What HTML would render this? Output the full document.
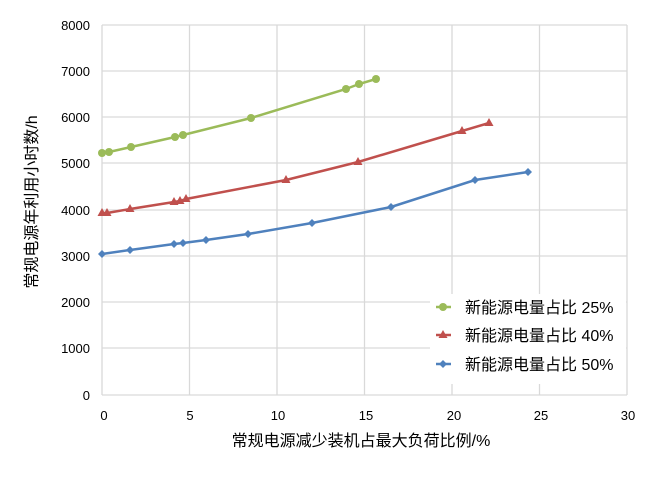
<!DOCTYPE html>
<html><head><meta charset="utf-8"><style>
body{margin:0;background:#fff;}
svg text{font-family:"Liberation Sans","Noto Sans CJK SC",sans-serif;fill:#000;}
</style></head><body>
<svg width="667" height="473" viewBox="0 0 667 473" xmlns="http://www.w3.org/2000/svg">
<rect width="667" height="473" fill="#fff"/>
<g stroke="#d9d9d9" stroke-width="1.3">
<line x1="102" y1="25" x2="627" y2="25"/>
<line x1="102" y1="71" x2="627" y2="71"/>
<line x1="102" y1="117" x2="627" y2="117"/>
<line x1="102" y1="163" x2="627" y2="163"/>
<line x1="102" y1="210" x2="627" y2="210"/>
<line x1="102" y1="256" x2="627" y2="256"/>
<line x1="102" y1="302" x2="627" y2="302"/>
<line x1="102" y1="348" x2="627" y2="348"/>
<line x1="102" y1="395" x2="627" y2="395"/>
<line x1="102" y1="25" x2="102" y2="395"/>
<line x1="189.5" y1="25" x2="189.5" y2="395"/>
<line x1="277" y1="25" x2="277" y2="395"/>
<line x1="364.5" y1="25" x2="364.5" y2="395"/>
<line x1="452" y1="25" x2="452" y2="395"/>
<line x1="539.5" y1="25" x2="539.5" y2="395"/>
<line x1="627" y1="25" x2="627" y2="395"/>
</g>
<g font-size="13" text-anchor="end">
<text x="90" y="30">8000</text><text x="90" y="76">7000</text><text x="90" y="122">6000</text><text x="90" y="168">5000</text><text x="90" y="215">4000</text><text x="90" y="261">3000</text><text x="90" y="307">2000</text><text x="90" y="353">1000</text><text x="90" y="400">0</text>
</g>
<g font-size="13" text-anchor="middle">
<text x="104" y="420">0</text><text x="190" y="420">5</text><text x="278" y="420">10</text><text x="366" y="420">15</text><text x="454" y="420">20</text><text x="541" y="420">25</text><text x="628" y="420">30</text>
</g>
<text x="361" y="446" font-size="16" text-anchor="middle">常规电源减少装机占最大负荷比例/%</text>
<text transform="translate(37,202) rotate(-90)" font-size="16" text-anchor="middle">常规电源年利用小时数/h</text>
<polyline fill="none" stroke="#9bbb59" stroke-width="2.5" points="102,153 109,152 131,147 175,137 183,135 251,118 346,89 359,84 376,79"/>
<g fill="#9bbb59"><circle cx="102" cy="153" r="4"/><circle cx="109" cy="152" r="4"/><circle cx="131" cy="147" r="4"/><circle cx="175" cy="137" r="4"/><circle cx="183" cy="135" r="4"/><circle cx="251" cy="118" r="4"/><circle cx="346" cy="89" r="4"/><circle cx="359" cy="84" r="4"/><circle cx="376" cy="79" r="4"/></g>
<polyline fill="none" stroke="#c0504d" stroke-width="2.5" points="102,213 107,213 130,209 174,202 180,201 186,199 286,180 358,162 462,131 489,123"/>
<g fill="#c0504d">
<path d="M102,208l4.5,8h-9z"/><path d="M107,208l4.5,8h-9z"/><path d="M130,204l4.5,8h-9z"/><path d="M174,197l4.5,8h-9z"/><path d="M180,196l4.5,8h-9z"/><path d="M186,194l4.5,8h-9z"/><path d="M286,175l4.5,8h-9z"/><path d="M358,157l4.5,8h-9z"/><path d="M462,126l4.5,8h-9z"/><path d="M489,118l4.5,8h-9z"/>
</g>
<polyline fill="none" stroke="#4f81bd" stroke-width="2.5" points="102,254 130,250 174,244 183,243 206,240 248,234 312,223 391,207 475,180 528,172"/>
<g fill="#4f81bd">
<path d="M102,250l4,4l-4,4l-4,-4z"/><path d="M130,246l4,4l-4,4l-4,-4z"/><path d="M174,240l4,4l-4,4l-4,-4z"/><path d="M183,239l4,4l-4,4l-4,-4z"/><path d="M206,236l4,4l-4,4l-4,-4z"/><path d="M248,230l4,4l-4,4l-4,-4z"/><path d="M312,219l4,4l-4,4l-4,-4z"/><path d="M391,203l4,4l-4,4l-4,-4z"/><path d="M475,176l4,4l-4,4l-4,-4z"/><path d="M528,168l4,4l-4,4l-4,-4z"/>
</g>
<rect x="430" y="294" width="196" height="90" fill="#fff"/>
<line x1="436" y1="307" x2="451" y2="307" stroke="#9bbb59" stroke-width="2.5"/><circle cx="443" cy="307" r="4" fill="#9bbb59"/>
<line x1="436" y1="335" x2="451" y2="335" stroke="#c0504d" stroke-width="2.5"/><path d="M443,330l4.5,8h-9z" fill="#c0504d"/>
<line x1="436" y1="364" x2="451" y2="364" stroke="#4f81bd" stroke-width="2.5"/><path d="M443,360l4,4l-4,4l-4,-4z" fill="#4f81bd"/>
<g font-size="16"><text x="465" y="313">新能源电量占比 25%</text><text x="465" y="341">新能源电量占比 40%</text><text x="465" y="370">新能源电量占比 50%</text></g>
</svg>
</body></html>
